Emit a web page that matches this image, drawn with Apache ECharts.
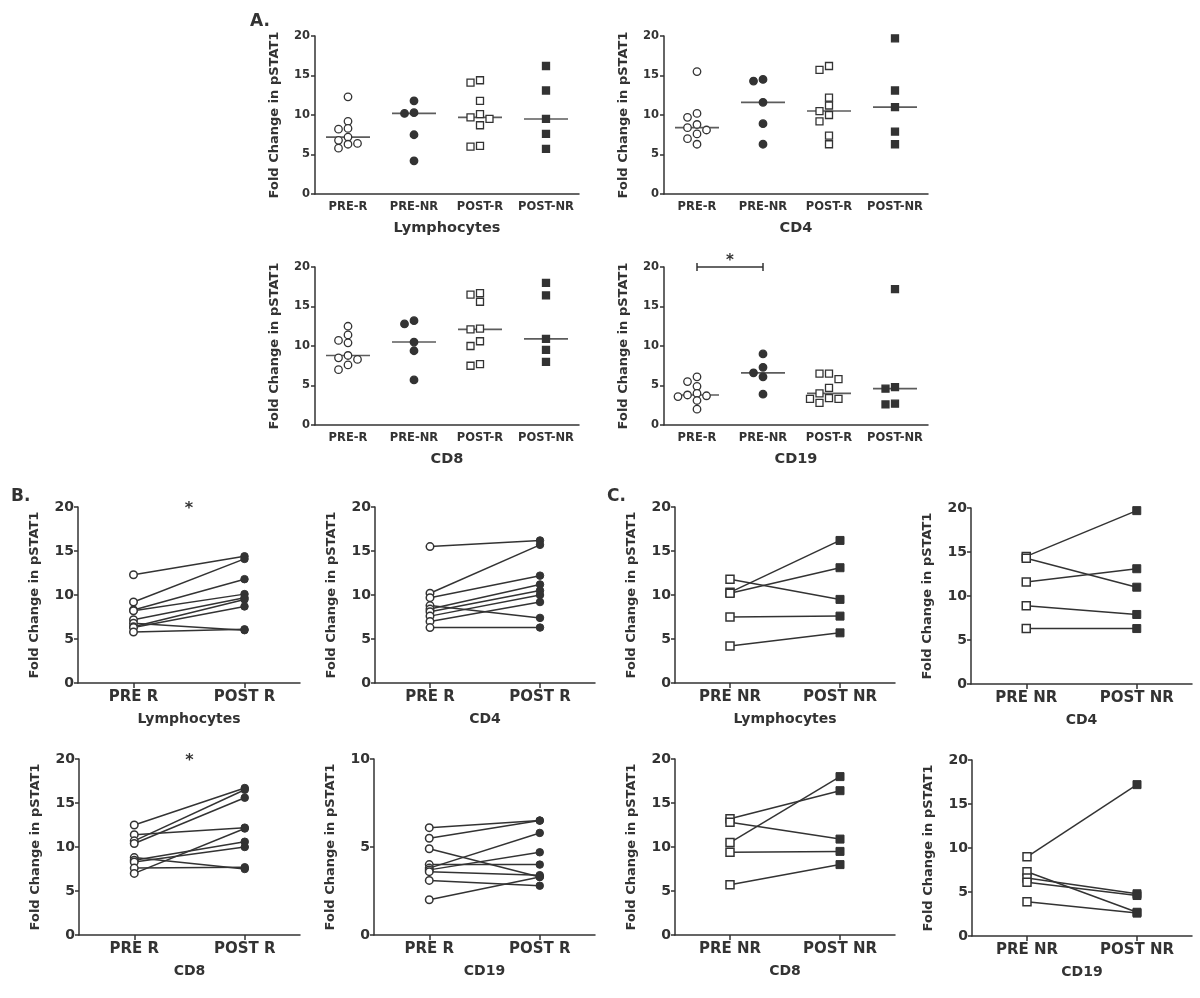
<!DOCTYPE html>
<html><head><meta charset="utf-8">
<script src="https://cdn.jsdelivr.net/npm/echarts@6/dist/echarts.min.js"></script>
<style>html,body{margin:0;padding:0;background:#fff}#c{width:1200px;height:998px}</style>
</head><body><div id="c"></div><script>
// ---------- data ----------
const cellTypes = ['Lymphocytes', 'CD4', 'CD8', 'CD19'];
const groupsA = ['PRE-R', 'PRE-NR', 'POST-R', 'POST-NR'];
const catsB = ['PRE R', 'POST R'];
const catsC = ['PRE NR', 'POST NR'];
const yMaxA = [20, 20, 20, 20];
const yMaxB = [20, 20, 20, 10];
const yMaxC = [20, 20, 20, 20];

// paired values (same patient at same index in PRE / POST arrays)
const lymphPreR   = [12.3, 9.2, 8.3, 8.2, 7.2, 6.8, 6.4, 6.3, 5.8];
const lymphPostR  = [14.4, 14.1, 11.8, 10.1, 9.7, 6.0, 9.5, 8.7, 6.1];
const lymphPreNR  = [11.8, 10.3, 10.2, 7.5, 4.2];
const lymphPostNR = [9.5, 16.2, 13.1, 7.6, 5.7];

const cd4PreR   = [15.5, 10.2, 9.7, 8.8, 8.4, 8.1, 7.6, 7.0, 6.3];
const cd4PostR  = [16.2, 15.7, 12.2, 7.4, 11.2, 10.5, 10.0, 9.2, 6.3];
const cd4PreNR  = [14.5, 14.3, 11.6, 8.9, 6.3];
const cd4PostNR = [19.7, 11.0, 13.1, 7.9, 6.3];

const cd8PreR   = [12.5, 11.4, 10.7, 10.4, 8.8, 8.5, 8.3, 7.6, 7.0];
const cd8PostR  = [16.7, 12.2, 16.5, 15.6, 7.5, 10.6, 10.0, 7.7, 12.1];
const cd8PreNR  = [13.2, 12.8, 10.5, 9.4, 5.7];
const cd8PostNR = [16.4, 10.9, 18.0, 9.5, 8.0];

const cd19PreR   = [6.1, 5.5, 4.9, 4.0, 3.8, 3.7, 3.6, 3.1, 2.0];
const cd19PostR  = [6.5, 6.5, 3.3, 4.0, 5.8, 4.7, 3.4, 2.8, 3.3];
const cd19PreNR  = [9.0, 7.3, 6.6, 6.1, 3.9];
const cd19PostNR = [17.2, 2.7, 4.8, 4.6, 2.6];

// ---------- layout / style ----------
const FONT = '"DejaVu Sans", "Liberation Sans", Arial, sans-serif';
const INK = '#333333';
const gridsA = [[315, 36, 264, 158], [664, 36, 264, 158], [315, 267, 264, 158], [664, 267, 264, 158]];
const gridsB = [[78, 507, 222, 176], [375, 507, 220, 176], [79, 759, 221, 176], [374, 759, 221, 176]];
const gridsC = [[675, 507, 220, 176], [971, 508, 221, 176], [675, 759, 220, 176], [972, 760, 220, 176]];

const cells = [
  [lymphPreR, lymphPreNR, lymphPostR, lymphPostNR],
  [cd4PreR, cd4PreNR, cd4PostR, cd4PostNR],
  [cd8PreR, cd8PreNR, cd8PostR, cd8PostNR],
  [cd19PreR, cd19PreNR, cd19PostR, cd19PostNR]
];

function median(a) {
  const s = a.slice().sort((x, y) => x - y);
  const m = Math.floor(s.length / 2);
  return s.length % 2 ? s[m] : (s[m - 1] + s[m]) / 2;
}
// simple beeswarm: horizontal pixel offsets so close values don't overlap
function swarm(vals, pxPerUnit, step, gap) {
  const order = vals.map((v, i) => i).sort((a, b) => vals[b] - vals[a]);
  const placed = [], off = new Array(vals.length);
  order.forEach(i => {
    const y = vals[i] * pxPerUnit;
    for (let k = 0; ; k++) {
      const o = k === 0 ? 0 : (k % 2 ? -1 : 1) * Math.ceil(k / 2) * step;
      if (placed.every(p => Math.abs(p.y - y) >= gap || Math.abs(p.o - o) >= step - 0.1)) {
        placed.push({ y, o }); off[i] = o; break;
      }
    }
  });
  return off;
}

const panelLabel = { fontSize: 17, fontWeight: 'bold', color: INK, fontFamily: FONT };
const option = {
  animation: false,
  backgroundColor: '#fff',
  textStyle: { fontFamily: FONT },
  title: [
    { text: 'A.', left: 245, top: 8, textStyle: panelLabel },
    { text: 'B.', left: 6, top: 483, textStyle: panelLabel },
    { text: 'C.', left: 602, top: 483, textStyle: panelLabel }
  ],
  grid: [], xAxis: [], yAxis: [], series: []
};

function addGrid(g, cats, yMax, o) {
  const i = option.grid.length;
  option.grid.push({ left: g[0], top: g[1], width: g[2], height: g[3] });
  option.xAxis.push({
    gridIndex: i, type: 'category', data: cats, boundaryGap: true,
    axisLine: { lineStyle: { color: INK, width: 1.5 } },
    axisTick: { show: o.xTick, alignWithLabel: true, length: 5, lineStyle: { color: INK, width: 1.5 } },
    axisLabel: { color: INK, fontWeight: 'bold', fontSize: o.catFont, margin: o.catMargin, interval: 0, fontFamily: FONT },
    name: o.title, nameLocation: 'middle', nameGap: o.titleGap,
    nameTextStyle: { color: INK, fontWeight: 'bold', fontSize: o.titleFont, fontFamily: FONT }
  });
  option.yAxis.push({
    gridIndex: i, type: 'value', min: 0, max: yMax, interval: 5,
    axisLine: { show: true, lineStyle: { color: INK, width: 1.5 } },
    axisTick: { show: true, length: 4, lineStyle: { color: INK, width: 1.5 } },
    splitLine: { show: false },
    axisLabel: { color: INK, fontWeight: 'bold', fontSize: o.tickFont, margin: o.tickMargin, fontFamily: FONT },
    name: 'Fold Change in pSTAT1', nameLocation: 'middle', nameGap: o.nameGap,
    nameTextStyle: { color: INK, fontWeight: 'bold', fontSize: o.nameFont, fontFamily: FONT }
  });
  return i;
}

// ---------- Panel A ----------
const styleA = [
  { symbol: 'circle', size: 7.5, fill: '#fff' },
  { symbol: 'circle', size: 7.5, fill: INK },
  { symbol: 'rect', size: 7, fill: '#fff' },
  { symbol: 'rect', size: 7, fill: INK }
];
cellTypes.forEach((name, c) => {
  const g = gridsA[c];
  const i = addGrid(g, groupsA, yMaxA[c], {
    xTick: false, catFont: 11.5, catMargin: 7, title: name, titleGap: 27, titleFont: 14.5,
    tickFont: 11.5, tickMargin: 5, nameGap: 34, nameFont: 13
  });
  const ppu = g[3] / yMaxA[c];
  cells[c].forEach((vals, k) => {
    const offs = swarm(vals, ppu, 9.5, 6.5);
    const st = styleA[k];
    option.series.push({
      type: 'scatter', xAxisIndex: i, yAxisIndex: i, symbol: st.symbol, symbolSize: st.size, z: 3,
      itemStyle: { color: st.fill, borderColor: INK, borderWidth: 1.3, opacity: 1 },
      data: vals.map((v, n) => ({ value: [groupsA[k], v], symbolOffset: [offs[n], 0] }))
    });
  });
  option.series.push({
    type: 'scatter', xAxisIndex: i, yAxisIndex: i, symbol: 'rect', symbolSize: [44, 1.6], z: 2,
    itemStyle: { color: INK },
    data: groupsA.map((gName, k) => [gName, median(cells[c][k])])
  });
});
// significance bracket in CD19 (PRE-R vs PRE-NR)
option.series.push({
  type: 'line', xAxisIndex: 3, yAxisIndex: 3, clip: false, symbol: 'rect', symbolSize: [1.5, 8],
  itemStyle: { color: INK }, lineStyle: { color: INK, width: 1.5 }, z: 4,
  data: [[groupsA[0], yMaxA[3]], [groupsA[1], yMaxA[3]]],
  markLine: {
    silent: true, symbol: ['none', 'none'], lineStyle: { color: 'rgba(0,0,0,0)', width: 0.1 },
    label: { show: true, position: 'middle', formatter: '*', fontSize: 15, fontWeight: 'bold', color: INK, distance: -2, fontFamily: FONT },
    data: [[{ coord: [groupsA[0], yMaxA[3]] }, { coord: [groupsA[1], yMaxA[3]] }]]
  }
});

// ---------- Panels B and C ----------
function pairedPanel(g, cats, yMax, title, pre, post, shape, star) {
  const i = addGrid(g, cats, yMax, {
    xTick: true, catFont: 15, catMargin: 7, title: title, titleGap: 29, titleFont: 14,
    tickFont: 14, tickMargin: 4, nameGap: 37, nameFont: 13
  });
  pre.forEach((v, k) => {
    const s = {
      type: 'line', xAxisIndex: i, yAxisIndex: i, clip: false, symbol: shape, symbolSize: shape === 'circle' ? 7.5 : 8,
      showSymbol: true, showAllSymbol: true, lineStyle: { color: INK, width: 1.5 }, itemStyle: { color: INK }, z: 3,
      data: [
        { value: [cats[0], v], itemStyle: { color: '#fff', borderColor: INK, borderWidth: 1.5 } },
        { value: [cats[1], post[k]], itemStyle: { color: INK, borderColor: INK, borderWidth: 1 } }
      ]
    };
    if (star && k === 0) {
      s.markLine = {
        silent: true, symbol: ['none', 'none'], lineStyle: { color: 'rgba(0,0,0,0)', width: 0.1 },
        label: { show: true, position: 'middle', formatter: '*', fontSize: 16, fontWeight: 'bold', color: INK, distance: -10, fontFamily: FONT },
        data: [[{ coord: [cats[0], yMax] }, { coord: [cats[1], yMax] }]]
      };
    }
    option.series.push(s);
  });
}
const starsB = [true, false, true, false];
cellTypes.forEach((name, c) => {
  pairedPanel(gridsB[c], catsB, yMaxB[c], name, cells[c][0], cells[c][2], 'circle', starsB[c]);
});
cellTypes.forEach((name, c) => {
  pairedPanel(gridsC[c], catsC, yMaxC[c], name, cells[c][1], cells[c][3], 'rect', false);
});

const chart = echarts.init(document.getElementById('c'), null, { renderer: 'canvas' });
chart.setOption(option);
</script></body></html>
